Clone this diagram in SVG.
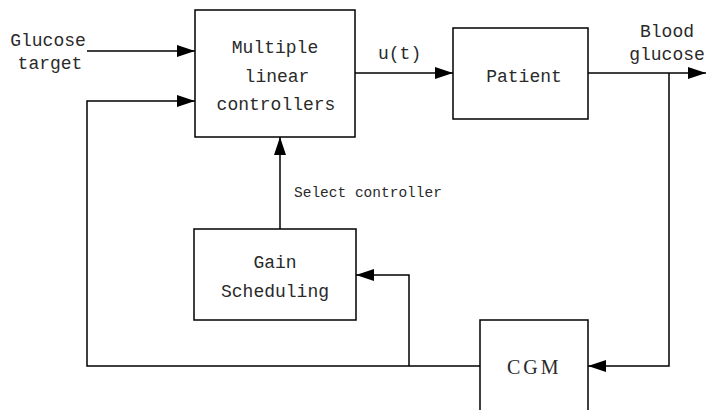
<svg xmlns="http://www.w3.org/2000/svg" width="706" height="410" viewBox="0 0 706 410">
  <style>
    .box { fill: #ffffff; stroke: #000000; stroke-width: 1.5; }
    .wire { fill: none; stroke: #000000; stroke-width: 1.5; }
    .arrow { marker-end: url(#head); }
    text { font-family: "Liberation Mono", "DejaVu Sans Mono", monospace; fill: #2a2a2a; font-size: 18px; letter-spacing: 0px; }
    .mid { text-anchor: middle; }
    .small { font-size: 14.5px; letter-spacing: 0px; }
    .serif { font-family: "Liberation Serif", "DejaVu Serif", serif; font-size: 20px; letter-spacing: 3px; }
  </style>
  <defs>
    <marker id="head" markerUnits="userSpaceOnUse" markerWidth="18" markerHeight="12" refX="18" refY="6" orient="auto">
      <path d="M0,0 L18,6 L0,12 z" fill="#000000"/>
    </marker>
  </defs>

  <!-- signal lines -->
  <g id="connectors">
    <path class="wire arrow" d="M87,51 L195,51"/>
    <path class="wire arrow" d="M480,366 L87,366 L87,101 L195,101"/>
    <path class="wire arrow" d="M355,73 L453,73"/>
    <path class="wire arrow" d="M588,73 L706,73"/>
    <path class="wire arrow" d="M669,73 L669,366 L588,366"/>
    <path class="wire arrow" d="M409,366 L409,275 L356,275"/>
    <path class="wire arrow" d="M280,229 L280,137"/>
    <text class="small" x="294" y="197">Select controller</text>
    <text class="mid" x="48" y="46">Glucose</text>
    <text class="mid" x="50" y="69">target</text>
    <text x="378" y="59">u(t)</text>
    <text class="mid" x="667" y="37">Blood</text>
    <text class="mid" x="667" y="60">glucose</text>
  </g>

  <g id="controllers">
    <rect class="box" x="195" y="10" width="160" height="127"/>
    <text class="mid" x="275" y="53">Multiple</text>
    <text class="mid" x="277" y="82">linear</text>
    <text class="mid" x="276" y="110">controllers</text>
  </g>

  <g id="patient">
    <rect class="box" x="453" y="28" width="135" height="91"/>
    <text class="mid" x="524" y="82">Patient</text>
  </g>

  <g id="gain-scheduling">
    <rect class="box" x="194" y="229" width="162" height="91"/>
    <text class="mid" x="275" y="268">Gain</text>
    <text class="mid" x="275" y="297">Scheduling</text>
  </g>

  <g id="cgm">
    <rect class="box" x="480" y="320" width="108" height="100"/>
    <text class="serif" x="507" y="374">CGM</text>
  </g>
</svg>
